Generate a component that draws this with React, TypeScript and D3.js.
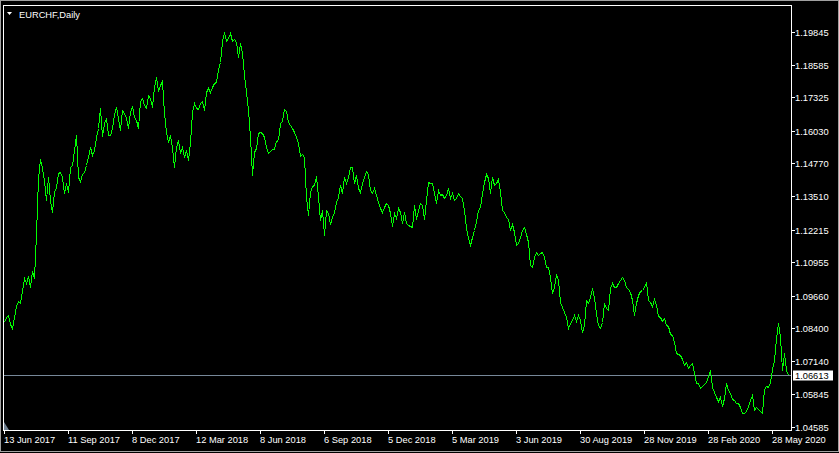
import React from "react";
import * as d3 from "d3";

const symbolTitle = "EURCHF,Daily";

const priceTicks = [1.19845, 1.18585, 1.17325, 1.1603, 1.1477, 1.1351, 1.12215, 1.10955, 1.0966, 1.084, 1.0714, 1.05845, 1.04585];
const priceTickLabels = ["1.19845", "1.18585", "1.17325", "1.16030", "1.14770", "1.13510", "1.12215", "1.10955", "1.09660", "1.08400", "1.07140", "1.05845", "1.04585"];

const dateLabels = ["13 Jun 2017", "11 Sep 2017", "8 Dec 2017", "12 Mar 2018", "8 Jun 2018", "6 Sep 2018", "5 Dec 2018", "5 Mar 2019", "3 Jun 2019", "30 Aug 2019", "28 Nov 2019", "28 Feb 2020", "28 May 2020"];
const dateTickBars = [0, 64, 128, 192, 256, 320, 384, 448, 512, 576, 640, 704, 768];

const currentPrice = 1.06613;
const currentPriceLabel = "1.06613";

// daily closes sampled every 2 bars
const closes2017 = [
  1.0866, 1.0885, 1.0891, 1.0857, 1.0840, 1.0885, 1.0926, 1.0946, 1.0939, 1.0982,
  1.1033, 1.1016, 1.1042, 1.1001, 1.1062, 1.1033, 1.1206, 1.1419, 1.1493, 1.1458,
  1.1413, 1.1335, 1.1426, 1.1335, 1.1290, 1.1368, 1.1387, 1.1438, 1.1445, 1.1426,
  1.1364, 1.1400, 1.1368, 1.1464, 1.1471, 1.1529, 1.1587, 1.1426, 1.1409, 1.1436,
  1.1445, 1.1471, 1.1503, 1.1542, 1.1509, 1.1529, 1.1580, 1.1613, 1.1690, 1.1583,
  1.1632, 1.1651, 1.1587, 1.1587, 1.1613, 1.1668, 1.1696, 1.1651, 1.1606, 1.1683,
  1.1670, 1.1651, 1.1613, 1.1677, 1.1699, 1.1657, 1.1645, 1.1613, 1.1719, 1.1731,
  1.1703, 1.1690, 1.1741, 1.1728, 1.1694, 1.1773, 1.1809, 1.1758,
];
const closes2018a = [
  1.1780, 1.1795, 1.1670, 1.1600, 1.1561, 1.1587, 1.1535, 1.1464, 1.1542, 1.1567,
  1.1516, 1.1542, 1.1503, 1.1529, 1.1490, 1.1561, 1.1677, 1.1709, 1.1690, 1.1686,
  1.1709, 1.1719, 1.1683, 1.1754, 1.1770, 1.1754, 1.1773, 1.1789, 1.1793, 1.1840,
  1.1870, 1.1951, 1.1986, 1.1951, 1.1960, 1.1979, 1.1951, 1.1956, 1.1947, 1.1889,
  1.1943, 1.1902, 1.1818, 1.1754, 1.1683, 1.1580, 1.1432, 1.1522, 1.1535, 1.1593,
  1.1600, 1.1593, 1.1580, 1.1542, 1.1516, 1.1526, 1.1531, 1.1531, 1.1565, 1.1567,
  1.1632, 1.1641, 1.1686, 1.1681, 1.1635, 1.1625, 1.1613, 1.1600, 1.1577, 1.1554,
  1.1505, 1.1513, 1.1503, 1.1348, 1.1278, 1.1368, 1.1391, 1.1393, 1.1428, 1.1348,
];
const closes2018b = [
  1.1258, 1.1297, 1.1200, 1.1297, 1.1284, 1.1243, 1.1271, 1.1290, 1.1329, 1.1348,
  1.1393, 1.1364, 1.1426, 1.1400, 1.1426, 1.1464, 1.1464, 1.1400, 1.1432, 1.1380,
  1.1368, 1.1400, 1.1426, 1.1449, 1.1436, 1.1374, 1.1361, 1.1380, 1.1355, 1.1329,
  1.1303, 1.1290, 1.1309, 1.1322, 1.1316, 1.1284, 1.1235, 1.1284, 1.1264, 1.1303,
  1.1290, 1.1245, 1.1290, 1.1245, 1.1239, 1.1235, 1.1230, 1.1316, 1.1261, 1.1297,
  1.1322, 1.1316, 1.1261, 1.1335, 1.1406, 1.1400, 1.1400, 1.1361, 1.1322, 1.1374,
  1.1355, 1.1359, 1.1342, 1.1355, 1.1380, 1.1342, 1.1361, 1.1335, 1.1342, 1.1361,
  1.1351, 1.1342, 1.1297, 1.1226, 1.1187, 1.1161, 1.1193, 1.1219, 1.1251, 1.1297,
];
const closes2019 = [
  1.1310, 1.1361, 1.1406, 1.1436, 1.1419, 1.1361, 1.1426, 1.1393, 1.1400, 1.1416,
  1.1368, 1.1297, 1.1290, 1.1271, 1.1261, 1.1219, 1.1242, 1.1213, 1.1161, 1.1168,
  1.1193, 1.1219, 1.1232, 1.1206, 1.1174, 1.1084, 1.1077, 1.1116, 1.1135, 1.1122,
  1.1129, 1.1135, 1.1116, 1.1077, 1.1075, 1.1039, 1.0975, 1.1001, 1.1050, 1.1026,
  1.0943, 1.0923, 1.0904, 1.0885, 1.0840, 1.0859, 1.0872, 1.0891, 1.0869, 1.0891,
  1.0872, 1.0827, 1.0853, 1.0949, 1.0936, 1.0962, 1.0994, 1.0956, 1.0898, 1.0853,
  1.0840, 1.0866, 1.0936, 1.0917, 1.0911, 1.0994, 1.1014, 1.1001, 1.1001, 1.1016,
  1.1026, 1.1039, 1.1026, 1.1001, 1.0991, 1.0981, 1.0949, 1.0891, 1.0936, 1.0969,
];
const closes2020 = [
  1.0982, 1.0988, 1.1001, 1.1020, 1.0949, 1.0943, 1.0926, 1.0952, 1.0930, 1.0887,
  1.0882, 1.0868, 1.0878, 1.0854, 1.0849, 1.0818, 1.0813, 1.0788, 1.0743, 1.0740,
  1.0738, 1.0720, 1.0698, 1.0711, 1.0688, 1.0698, 1.0704, 1.0666, 1.0627, 1.0630,
  1.0611, 1.0615, 1.0623, 1.0633, 1.0655, 1.0678, 1.0614, 1.0595, 1.0575, 1.0560,
  1.0575, 1.0541, 1.0569, 1.0627, 1.0601, 1.0588, 1.0565, 1.0561, 1.0553, 1.0552,
  1.0534, 1.0514, 1.0513, 1.0521, 1.0539, 1.0564, 1.0582, 1.0526, 1.0534, 1.0529,
  1.0521, 1.0514, 1.0607, 1.0618, 1.0614, 1.0633, 1.0682, 1.0717, 1.0801, 1.0862,
  1.0808, 1.0678, 1.0743, 1.0678, 1.0661,
];

const closes = [...closes2017, ...closes2018a, ...closes2018b, ...closes2019, ...closes2020];
const BAR_STEP = 2;

const W = 839;
const H = 453;
const FRAME = { left: 3, top: 5, right: 791, bottom: 430 };
const FONT = "'Liberation Sans', Arial, sans-serif";

export default function App() {
  const x = d3.scaleLinear().domain([0, 784]).range([4, 788]);
  const y = d3.scaleLinear().domain([1.04585, 1.19845]).range([427, 32]);

  const line = d3
    .line<number>()
    .x((_, i) => x(i * BAR_STEP) + 0.5)
    .y((d) => Math.round(y(d)) + 0.5);

  const curY = Math.round(y(currentPrice)) + 0.5;

  return (
    <div style={{ position: "absolute", left: 0, top: 0, width: W, height: H }}>
      <svg width={W} height={H} style={{ display: "block", background: "#000" }}>
        <rect x={0} y={0} width={W} height={H} fill="#000" />
        {/* window border */}
        <rect x={0.5} y={0.5} width={W - 1} height={H - 2} fill="none" stroke="#a0a0a0" />
        {/* chart frame */}
        <rect
          x={FRAME.left + 0.5}
          y={FRAME.top + 0.5}
          width={FRAME.right - FRAME.left}
          height={FRAME.bottom - FRAME.top}
          fill="none"
          stroke="#ffffff"
          shapeRendering="crispEdges"
        />
        {/* current price line */}
        <line
          x1={FRAME.left + 1}
          x2={FRAME.right}
          y1={curY}
          y2={curY}
          stroke="#778899"
          shapeRendering="crispEdges"
        />
        {/* price line */}
        <path d={line(closes) || ""} fill="none" stroke="#00ff00" strokeWidth={1} shapeRendering="crispEdges" />
        {/* right axis ticks & labels */}
        {priceTicks.map((p, i) => {
          const yy = Math.round(y(p)) + 0.5;
          return (
            <g key={"p" + i}>
              <line x1={FRAME.right + 0.5} x2={FRAME.right + 4} y1={yy} y2={yy} stroke="#fff" shapeRendering="crispEdges" />
              <text x={795} y={yy + 3.5} fill="#fff" fontFamily={FONT} fontSize={9.3}>
                {priceTickLabels[i]}
              </text>
            </g>
          );
        })}
        {/* current price box */}
        <rect x={793} y={curY - 5} width={40} height={10} fill="#fff" />
        <text x={795} y={curY + 3.5} fill="#000" fontFamily={FONT} fontSize={9.3}>
          {currentPriceLabel}
        </text>
        {/* bottom axis ticks & labels */}
        {dateTickBars.map((b, i) => {
          const xx = Math.round(x(b)) + 0.5;
          return (
            <g key={"d" + i}>
              <line x1={xx} x2={xx} y1={FRAME.bottom + 0.5} y2={FRAME.bottom + 4} stroke="#fff" shapeRendering="crispEdges" />
              <text x={xx - 0.5} y={442.5} fill="#fff" fontFamily={FONT} fontSize={9.3}>
                {dateLabels[i]}
              </text>
            </g>
          );
        })}
        {/* shift marker */}
        <path d="M4,422 L4,430 L9,430 Z" fill="#708090" />
        {/* title */}
        <path d="M7,12 L12,12 L9.5,15 Z" fill="#fff" />
        <text x={19} y={17.5} fill="#fff" fontFamily={FONT} fontSize={9.3}>
          {symbolTitle}
        </text>
      </svg>
    </div>
  );
}
